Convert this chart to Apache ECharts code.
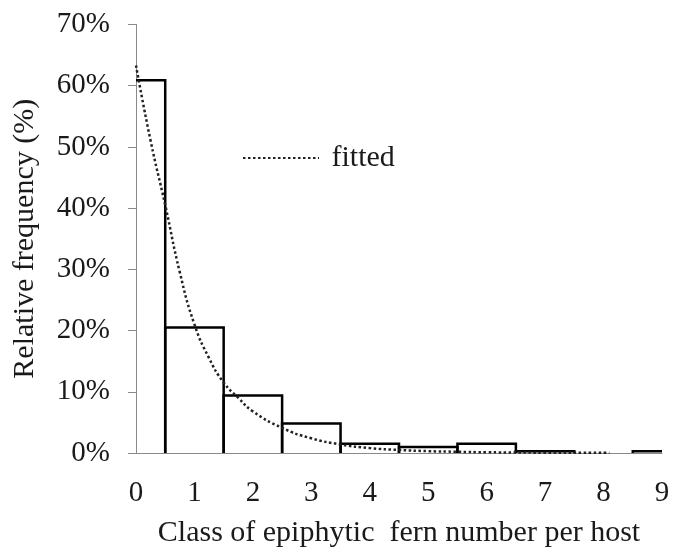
<!DOCTYPE html>
<html>
<head>
<meta charset="utf-8">
<script src="https://cdn.jsdelivr.net/npm/echarts@6/dist/echarts.min.js"></script>
<style>html,body{margin:0;padding:0;background:#fff;}#c{width:674px;height:548px;}</style>
</head>
<body>
<div id="c"></div>
<script>
// Data
const classes = [0, 1, 2, 3, 4, 5, 6, 7, 8, 9];
const freq = [60.9, 20.5, 9.4, 4.8, 1.5, 1.0, 1.5, 0.3, 0, 0.3];
const fitX = [0, 0.25, 0.5, 0.75, 1, 1.25, 1.5, 1.75, 2, 2.5, 3, 3.5, 4, 4.5, 5, 5.5, 6, 7, 8.1];
const fitY = [63.3, 51, 40.5, 29.5, 21, 15.5, 11.5, 9.0, 6.8, 4.1, 2.4, 1.4, 0.8, 0.5, 0.3, 0.2, 0.12, 0.05, 0.02];
const yTicks = [0, 10, 20, 30, 40, 50, 60, 70];

const FONT = 'Liberation Serif';
const chart = echarts.init(document.getElementById('c'));
chart.setOption({
  backgroundColor: '#fff',
  animation: false,
  textStyle: { fontFamily: FONT },
  grid: { left: 136, right: 12, top: 24.5, bottom: 95, containLabel: false, outerBoundsMode: 'none' },
  legend: {
    left: 237, top: 138,
    itemWidth: 76, itemHeight: 14, itemGap: 12,
    itemStyle: { color: 'rgba(0,0,0,0)', borderWidth: 0, opacity: 0 },
    formatter: function (n) { return ' ' + n; },
    textStyle: { fontFamily: FONT, fontSize: 30, color: '#1a1a1a' },
    data: ['fitted']
  },
  xAxis: {
    type: 'value', min: 0, max: 9, interval: 1,
    name: 'Class of epiphytic  fern number per host',
    nameLocation: 'middle', nameGap: 65,
    nameTextStyle: { fontFamily: FONT, fontSize: 30, color: '#1a1a1a' },
    axisLine: { show: true, lineStyle: { color: '#8a8a8a', width: 1 } },
    axisTick: { show: false },
    splitLine: { show: false },
    axisLabel: { fontFamily: FONT, fontSize: 29, color: '#1a1a1a', margin: 26 }
  },
  yAxis: {
    type: 'value', min: yTicks[0], max: yTicks[yTicks.length - 1], interval: 10,
    name: 'Relative frequency (%)',
    nameLocation: 'middle', nameGap: 96,
    nameTextStyle: { fontFamily: FONT, fontSize: 30, color: '#1a1a1a' },
    axisLine: { show: true, lineStyle: { color: '#8a8a8a', width: 1 } },
    axisTick: { show: true, inside: false, length: 8, lineStyle: { color: '#8a8a8a' } },
    splitLine: { show: false },
    axisLabel: { fontFamily: FONT, fontSize: 29, color: '#1a1a1a', margin: 26, formatter: '{value}%' }
  },
  series: [
    {
      type: 'custom',
      name: 'freq',
      data: classes.map((c, i) => [c, freq[i]]),
      renderItem: function (params, api) {
        const x = api.value(0), v = api.value(1);
        if (!v) return null;
        const cs = params.coordSys;
        const a = api.coord([x - 0.5, 0]);
        const b = api.coord([x + 0.5, v]);
        let x0 = a[0], x1 = b[0];
        const clipL = x0 < cs.x, clipR = x1 > cs.x + cs.width;
        x0 = Math.max(x0, cs.x); x1 = Math.min(x1, cs.x + cs.width);
        const y0 = a[1], y1 = b[1];
        const pts = [];
        if (!clipL) pts.push([x0, y0]);
        pts.push([x0, y1]);
        pts.push([x1, y1]);
        if (!clipR) pts.push([x1, y0]);
        return {
          type: 'polyline',
          shape: { points: pts },
          style: { stroke: '#000', lineWidth: 2.5, fill: null }
        };
      },
      z: 2
    },
    {
      type: 'line',
      name: 'fitted',
      data: fitX.map((x, i) => [x, fitY[i]]),
      smooth: true,
      symbol: 'none',
      lineStyle: { color: '#222', width: 2.5, type: [2.5, 2.5] },
      itemStyle: { color: '#222' },
      z: 3
    }
  ]
});
</script>
</body>
</html>
